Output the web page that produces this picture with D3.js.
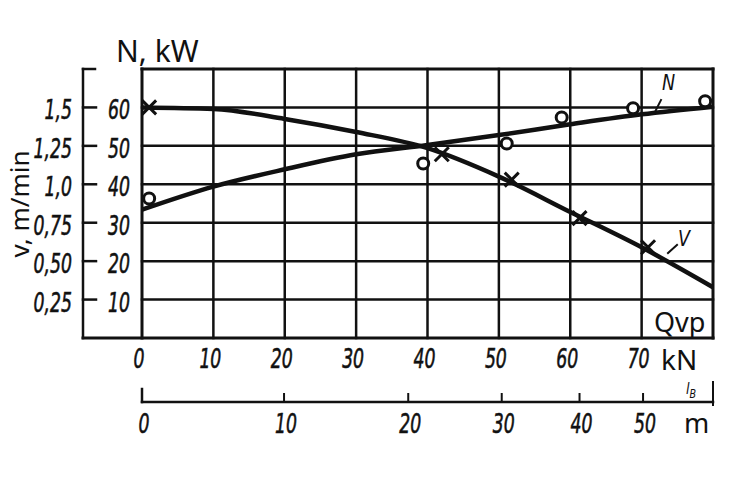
<!DOCTYPE html>
<html>
<head>
<meta charset="utf-8">
<script src="https://cdn.jsdelivr.net/npm/d3@7"></script>
<style>
  html, body { margin: 0; padding: 0; background: #fff; }
  svg { display: block; }
</style>
</head>
<body>
<div id="chart"></div>
<script>
// load axis (kN) and grid
const loadTicks = [0, 10, 20, 30, 40, 50, 60, 70];
const powerTicks = [10, 20, 30, 40, 50, 60];
const speedTicks = [0.25, 0.5, 0.75, 1.0, 1.25, 1.5];
const speedLabels = ['0,25', '0,50', '0,75', '1,0', '1,25', '1,5'];
// length axis (m) is non-linear: each mark sits at a load value
const lengthTicks = [0, 10, 20, 30, 40, 50];
const lengthAtLoad = [0, 19.9, 37.3, 50.4, 61.3, 70.2];

// smooth curves
const curveLoad = [0, 10, 20, 30, 40, 50, 60, 70, 80];
const powerCurve = [33.4, 39.4, 43.9, 47.8, 50.2, 52.8, 55.6, 58.2, 60.2];
const speedCurve = [1.5, 1.49, 1.425, 1.34, 1.235, 1.05, 0.82, 0.59, 0.33];

// measured points
const powerPointsLoad = [1, 39.4, 51.1, 58.8, 68.8, 78.9];
const powerPoints = [36.3, 45.4, 50.6, 57.4, 59.8, 61.6];
const speedPointsLoad = [1, 42, 51.8, 61.3, 70.9];
const speedPoints = [1.5, 1.195, 1.03, 0.78, 0.59];

const width = 746, height = 491;
const svg = d3.select('#chart').append('svg')
  .attr('width', width)
  .attr('height', height);

const x = d3.scaleLinear().domain([0, 80]).range([142, 713]);
const yN = d3.scaleLinear().domain([0, 70]).range([338, 69]);
const yV = d3.scaleLinear().domain([0, 1.75]).range([338, 69]);

const ink = '#111';
const digitFont = '"DejaVu Sans", sans-serif';
const wordFont = '"Noto Sans", "DejaVu Sans", sans-serif';

// condensed italic digits, like the drafting lettering
function numText(px, py, str, anchor, size) {
  svg.append('text')
    .attr('transform', `translate(${px},${py}) scale(0.64,1)`)
    .attr('text-anchor', anchor || 'middle')
    .attr('font-family', digitFont)
    .attr('font-style', 'italic')
    .attr('font-size', (size || 27) + 'px')
    .attr('fill', ink)
    .attr('stroke', ink)
    .attr('stroke-width', 0.6)
    .text(str);
}

function line(x1, y1, x2, y2, w) {
  svg.append('line')
    .attr('x1', x1).attr('y1', y1).attr('x2', x2).attr('y2', y2)
    .attr('stroke', ink)
    .attr('stroke-width', w || 2.5)
    .attr('stroke-linecap', 'square');
}

// grid
loadTicks.slice(1).forEach(t => line(x(t), yN(70), x(t), yN(0), 2.5));
powerTicks.forEach(t => line(x(0), yN(t), x(80), yN(t), 2.5));

// frame
line(x(0), yN(70), x(80), yN(70), 3);
line(x(80), yN(70), x(80), yN(0), 3);
line(x(0), yN(70), x(0), yN(0), 3);
line(83, yN(0), x(80), yN(0), 3);

// left axis
const axisX = 83;
line(axisX, yN(70), axisX, yN(0), 2.5);
line(axisX, yN(70), axisX + 12, yN(70), 2.5);
speedTicks.forEach((t, i) => {
  line(axisX, yV(t), axisX + 13, yV(t), 2.5);
  numText(72, yV(t) + 12, speedLabels[i], 'end');
});
powerTicks.forEach(t => numText(119, yN(t) + 12, String(t), 'middle'));

// load axis labels
loadTicks.forEach(t => numText(x(t) - 3, 368, String(t), 'middle'));
svg.append('text')
  .attr('x', 661).attr('y', 370)
  .attr('font-family', wordFont)
  .attr('font-size', '28px')
  .attr('fill', ink)
  .text('kN');

// length axis
const lenY = 402;
line(x(0), lenY, x(80), lenY, 2.5);
line(x(0), lenY - 13, x(0), lenY, 2.5);
line(x(80), lenY - 20, x(80), lenY + 3, 2);
lengthTicks.forEach((t, i) => {
  const px = x(lengthAtLoad[i]);
  if (i > 0) line(px, lenY - 8, px, lenY, 2);
  numText(px + 2, 433, String(t), 'middle');
});
svg.append('text')
  .attr('x', 684).attr('y', 433)
  .attr('font-family', wordFont)
  .attr('font-size', '27px')
  .attr('fill', ink)
  .text('m');
svg.append('text')
  .attr('transform', 'translate(686,394) scale(0.8,1)')
  .attr('font-family', digitFont)
  .attr('font-style', 'italic')
  .attr('font-size', '16px')
  .attr('fill', ink)
  .text('l')
  .append('tspan')
  .attr('dy', 4)
  .attr('font-size', '12px')
  .text('B');

// axis titles
svg.append('text')
  .attr('x', 116).attr('y', 62)
  .attr('font-family', wordFont)
  .attr('font-size', '30px')
  .attr('fill', ink)
  .text('N, kW');
svg.append('text')
  .attr('transform', 'translate(29,204) rotate(-90)')
  .attr('text-anchor', 'middle')
  .attr('font-family', wordFont)
  .attr('font-size', '26px')
  .attr('fill', ink)
  .text('v, m/min');
svg.append('text')
  .attr('x', 654).attr('y', 332)
  .attr('font-family', wordFont)
  .attr('font-size', '27px')
  .attr('fill', ink)
  .text('Qvp');

// curves
const powerLine = d3.line()
  .x((d, i) => x(curveLoad[i]))
  .y(d => yN(d))
  .curve(d3.curveMonotoneX);
const speedLine = d3.line()
  .x((d, i) => x(curveLoad[i]))
  .y(d => yV(d))
  .curve(d3.curveMonotoneX);

svg.append('path')
  .attr('d', powerLine(powerCurve))
  .attr('fill', 'none')
  .attr('stroke', ink)
  .attr('stroke-width', 4.5);
svg.append('path')
  .attr('d', speedLine(speedCurve))
  .attr('fill', 'none')
  .attr('stroke', ink)
  .attr('stroke-width', 4.5);

// measured points
svg.selectAll('.pt-n')
  .data(powerPoints)
  .enter()
  .append('circle')
  .attr('class', 'pt-n')
  .attr('cx', (d, i) => x(powerPointsLoad[i]))
  .attr('cy', d => yN(d))
  .attr('r', 5.5)
  .attr('fill', '#fff')
  .attr('stroke', ink)
  .attr('stroke-width', 3);

const cross = svg.selectAll('.pt-v')
  .data(speedPoints)
  .enter()
  .append('g')
  .attr('class', 'pt-v')
  .attr('transform', (d, i) => `translate(${x(speedPointsLoad[i])},${yV(d)})`);
cross.append('path')
  .attr('d', 'M-7,-7L7,7M-7,7L7,-7')
  .attr('stroke', ink)
  .attr('stroke-width', 3);

// curve labels with leaders
line(655, 112, 661, 100, 2);
svg.append('text')
  .attr('transform', 'translate(662,90) scale(0.8,1)')
  .attr('font-family', digitFont)
  .attr('font-style', 'italic')
  .attr('font-size', '22px')
  .attr('fill', ink)
  .text('N');
line(668, 253, 677, 245, 2);
svg.append('text')
  .attr('transform', 'translate(678,246) scale(0.8,1)')
  .attr('font-family', digitFont)
  .attr('font-style', 'italic')
  .attr('font-size', '22px')
  .attr('fill', ink)
  .text('V');
</script>
</body>
</html>
